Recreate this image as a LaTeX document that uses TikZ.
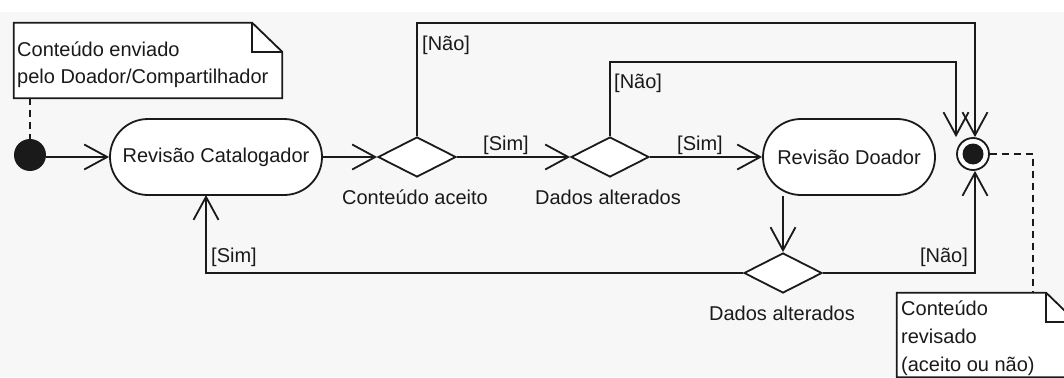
\documentclass[tikz,border=0pt]{standalone}
\usepackage{fontspec}
\setmainfont{Liberation Sans}
\usetikzlibrary{arrows.meta,shapes.geometric,shapes.misc}
\definecolor{canvas}{HTML}{F7F7F7}
\definecolor{ink}{HTML}{1A1A1A}
\begin{document}
\begin{tikzpicture}[x=1pt,y=-1pt,
  every node/.style={font=\fontsize{20}{24}\selectfont, text=ink},
  line/.style={line width=1.8pt, draw=ink},
  flow/.style={line, -{Straight Barb[length=23pt,width=25pt,line width=1.8pt]}},
  anchorline/.style={line width=1.6pt, draw=ink, dash pattern=on 7pt off 5pt},
  activity/.style={rounded rectangle, line, fill=white, minimum height=76pt, inner sep=0pt},
  decision/.style={diamond, line, fill=white, minimum width=78pt, minimum height=40pt, inner sep=0pt},
  txt/.style={inner sep=0pt, anchor=base west},
  ctxt/.style={inner sep=0pt, anchor=base},
  rtxt/.style={inner sep=0pt, anchor=base east},
  notebox/.style={inner sep=0pt, draw=none}
]
\clip (0,0) rectangle (1064,377);
\useasboundingbox (0,0) rectangle (1064,377);
\fill[canvas] (0,0) rectangle (1064,377);
\fill[white] (0,0) rectangle (1064,12);

% notes (dog-eared comment boxes)
\node[notebox, minimum width=268pt, minimum height=75pt] (note1) at (148,60.5) {};
\filldraw[line, fill=white] (note1.north west) -- ([xshift=-30pt]note1.north east)
  -- ([yshift=-29pt]note1.north east) -- (note1.south east) -- (note1.south west) -- cycle;
\draw[line] ([xshift=-30pt]note1.north east) -- ([xshift=-30pt,yshift=-29pt]note1.north east)
  -- ([yshift=-29pt]note1.north east);
\node[txt] (n1a) at (17,56.5) {Conteúdo enviado};
\node[txt] (n1b) at (17,84) {pelo Doador/Compartilhador};

\node[notebox, minimum width=179pt, minimum height=84pt] (note2) at (986.5,335) {};
\filldraw[line, fill=white] (note2.north west) -- ([xshift=-30pt]note2.north east)
  -- ([yshift=-29pt]note2.north east) -- (note2.south east) -- (note2.south west) -- cycle;
\draw[line] ([xshift=-30pt]note2.north east) -- ([xshift=-30pt,yshift=-29pt]note2.north east)
  -- ([yshift=-29pt]note2.north east);
\node[txt] (n2a) at (901,315) {Conteúdo};
\node[txt] (n2b) at (901,343) {revisado};
\node[txt] (n2c) at (901,371) {(aceito ou não)};

% activity nodes
\node[circle, fill=ink, minimum size=32pt, inner sep=0pt] (init) at (30,155) {};
\node[activity, minimum width=212pt] (rc) at (216,157) {Revisão Catalogador};
\node[decision] (d1) at (417,157) {};
\node[decision] (d2) at (610,157) {};
\node[activity, minimum width=172pt] (rd) at (849,157) {Revisão Doador};
\node[decision] (d3) at (783,273) {};
\node[circle, line, fill=white, minimum size=32pt, inner sep=0pt,
  path picture={\fill[ink] (path picture bounding box.center) circle (10.5pt);}] (fin) at (973,154) {};

% decision captions
\node[ctxt] (c1) at (415,204.5) {Conteúdo aceito};
\node[ctxt] (c2) at (608,204.5) {Dados alterados};
\node[ctxt] (c3) at (782,320) {Dados alterados};

% routing points
\coordinate (topA) at (975,23);
\coordinate (topB) at (956,62);
\coordinate (rcIn) at (206,195);

% transitions
\draw[flow] (init.east |- rc) -- (rc.west);
\draw[flow] (rc.east) -- (d1.west);
\draw[flow] (d1.east) -- (d2.west);
\draw[flow] (d2.east) -- (rd.west);
\draw[flow] (d1.north) |- (topA) -- (topA |- fin.north);
\draw[flow] (d2.north) |- (topB) -- (topB |- fin.north);
\draw[flow] (d3.north |- rd.south) -- (d3.north);
\draw[flow] (d3.west) -| (rcIn);
\draw[flow] (d3.east) -| (topA |- fin.south);

% guards
\node[txt] (g1) at (422,51) {[Não]};
\node[txt] (g2) at (614,89) {[Não]};
\node[txt] (g3) at (483,150) {[Sim]};
\node[txt] (g4) at (677,150) {[Sim]};
\node[txt] (g5) at (211,262) {[Sim]};
\node[rtxt] (g6) at (968,262) {[Não]};

% note anchors
\draw[anchorline] (note1.south -| init) -- (init.north);
\draw[anchorline] (fin.east) -- (1033,154) -- (note2.north -| 1033,0);
\end{tikzpicture}
\end{document}
